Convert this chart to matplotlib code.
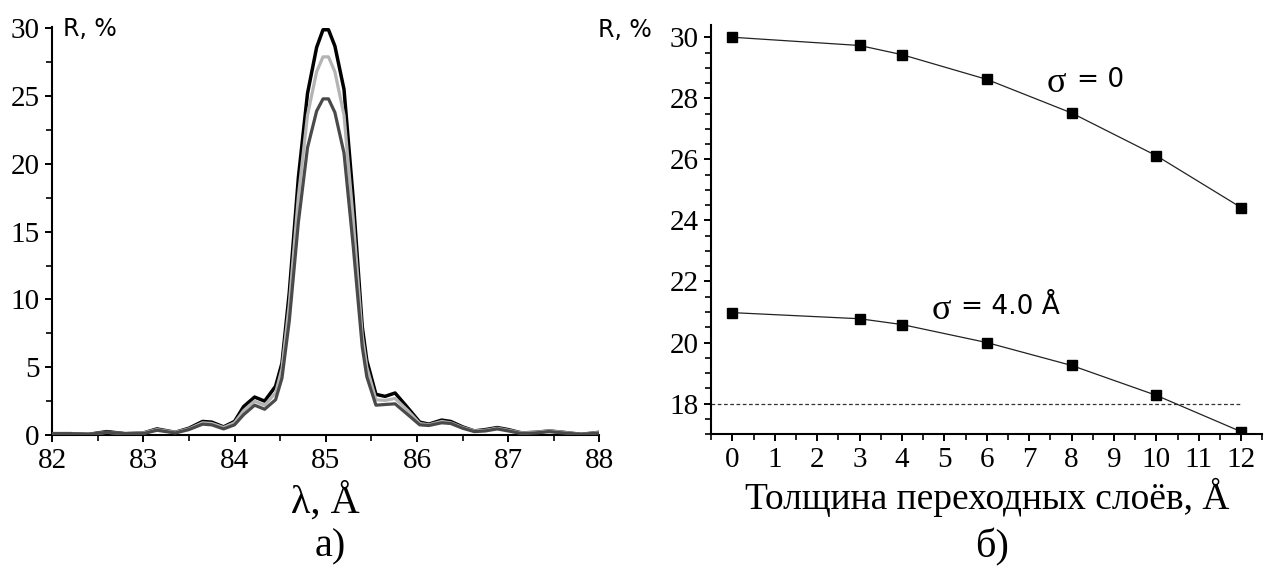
import numpy as np
import matplotlib
matplotlib.use('Agg')
import matplotlib.pyplot as plt
from matplotlib.ticker import MultipleLocator

# ── Data: panel a) reflectivity spectra ──
wavelength = [82.0, 82.2, 82.4, 82.6, 82.8, 83.0, 83.15, 83.35, 83.5, 83.65,
              83.75, 83.88, 84.0, 84.1, 84.22, 84.33, 84.45, 84.52, 84.6, 84.7,
              84.8, 84.9, 84.97, 85.03, 85.1, 85.2, 85.3, 85.4, 85.45, 85.55,
              85.65, 85.76, 85.9, 86.03, 86.13, 86.27, 86.37, 86.5, 86.63, 86.75,
              86.88, 87.0, 87.15, 87.3, 87.45, 87.6, 87.8, 88.0]
r_black = [0.1, 0.1, 0.05, 0.25, 0.1, 0.15, 0.45, 0.2, 0.5, 1.0,
           0.95, 0.6, 1.0, 2.1, 2.8, 2.5, 3.6, 5.3, 10.5, 19.0,
           25.2, 28.6, 29.9, 29.9, 28.7, 25.5, 17.5, 8.0, 5.5, 3.0,
           2.85, 3.1, 2.0, 0.95, 0.8, 1.1, 1.0, 0.6, 0.3, 0.4,
           0.55, 0.4, 0.15, 0.2, 0.3, 0.2, 0.05, 0.2]
r_light = [0.1, 0.1, 0.05, 0.2, 0.1, 0.15, 0.4, 0.2, 0.45, 0.9,
           0.85, 0.55, 0.9, 1.8, 2.5, 2.2, 3.1, 4.9, 9.6, 17.6,
           23.6, 26.8, 27.9, 27.9, 26.8, 23.6, 16.0, 7.3, 5.0, 2.6,
           2.55, 2.7, 1.8, 0.85, 0.75, 1.0, 0.9, 0.55, 0.3, 0.35,
           0.5, 0.35, 0.15, 0.2, 0.3, 0.2, 0.05, 0.2]
r_dark = [0.1, 0.1, 0.05, 0.2, 0.1, 0.1, 0.35, 0.15, 0.4, 0.8,
          0.75, 0.45, 0.75, 1.5, 2.2, 1.9, 2.6, 4.2, 8.4, 15.7,
          21.2, 23.9, 24.8, 24.8, 23.8, 20.8, 14.0, 6.5, 4.3, 2.2,
          2.25, 2.3, 1.5, 0.75, 0.7, 0.9, 0.85, 0.5, 0.25, 0.3,
          0.45, 0.3, 0.1, 0.15, 0.25, 0.15, 0.05, 0.15]

# ── Data: panel б) peak reflectivity vs interlayer thickness ──
thickness = [0, 3, 4, 6, 8, 10, 12]
r_sigma0 = [30.0, 29.73, 29.43, 28.62, 27.52, 26.12, 24.42]
r_sigma4 = [20.98, 20.78, 20.59, 20.0, 19.25, 18.27, 17.08]
threshold = 18.0

SERIF = "Liberation Serif"
SANS = "DejaVu Sans"

plt.rcParams["font.family"] = [SERIF, "DejaVu Serif"]

fig = plt.figure(figsize=(12.7, 5.69), dpi=100)


def style_axes(ax):
    ax.spines["top"].set_visible(False)
    ax.spines["right"].set_visible(False)
    for s in ("left", "bottom"):
        ax.spines[s].set_linewidth(1.5)
    ax.tick_params(which="major", direction="out", length=5, width=1.4,
                   labelsize=21, pad=4)
    ax.tick_params(which="minor", direction="out", length=4, width=1.2)


# ── Panel a) ──
ax1 = fig.add_axes([0.041, 0.2355, 0.431, 0.717])
ax1.plot(wavelength, r_black, color="black", lw=2.5, zorder=3)
ax1.plot(wavelength, r_light, color="#b4b4b4", lw=2.3, zorder=4)
ax1.plot(wavelength, r_dark, color="#4a4a4a", lw=2.3, zorder=5)
ax1.set_xlim(82, 88)
ax1.set_ylim(0, 30.1)
ax1.xaxis.set_major_locator(MultipleLocator(1))
ax1.xaxis.set_minor_locator(MultipleLocator(0.5))
ax1.yaxis.set_major_locator(MultipleLocator(5))
ax1.yaxis.set_minor_locator(MultipleLocator(2.5))
style_axes(ax1)
ax1.text(0.02, 0.995, "R, %", transform=ax1.transAxes, fontsize=17,
         family=SANS, ha="left", va="center")
ax1.set_xlabel("λ, Å", fontsize=29, labelpad=6)

# ── Panel б) ──
ax2 = fig.add_axes([0.560, 0.237, 0.434, 0.719])
ax2.plot(thickness, r_sigma0, color="#222222", lw=0.9, marker="s",
         ms=7, mfc="black", mec="black", zorder=3)
ax2.plot(thickness, r_sigma4, color="#222222", lw=0.9, marker="s",
         ms=7, mfc="black", mec="black", zorder=3)
ax2.hlines(threshold, -0.5, 12, colors="#333333", linestyles=(0, (3, 2)),
           lw=0.9, zorder=2)
ax2.set_xlim(-0.5, 12.5)
ax2.set_ylim(17, 30.4)
ax2.xaxis.set_major_locator(MultipleLocator(1))
ax2.xaxis.set_minor_locator(MultipleLocator(0.5))
ax2.yaxis.set_major_locator(MultipleLocator(2))
ax2.yaxis.set_minor_locator(MultipleLocator(0.5))
style_axes(ax2)
ax2.text(-0.205, 0.987, "R, %", transform=ax2.transAxes, fontsize=17,
         family=SANS, ha="left", va="center")
ax2.text(7.65, 28.49, "σ", fontsize=26, ha="center", va="center")
ax2.text(8.12, 28.59, "= 0", fontsize=19, family=SANS, ha="left",
         va="center")
ax2.text(4.92, 21.05, "σ", fontsize=26, ha="center", va="center")
ax2.text(5.38, 21.15, "= 4.0 Å", fontsize=19, family=SANS, ha="left",
         va="center")
ax2.set_xlabel("Толщина переходных слоёв, Å", fontsize=27, labelpad=4)

fig.text(0.26, 0.038, "а)", fontsize=29, ha="center", va="center")
fig.text(0.781, 0.038, "б)", fontsize=29, ha="center", va="center")

plt.savefig("out.png", dpi=100)
plt.close()
